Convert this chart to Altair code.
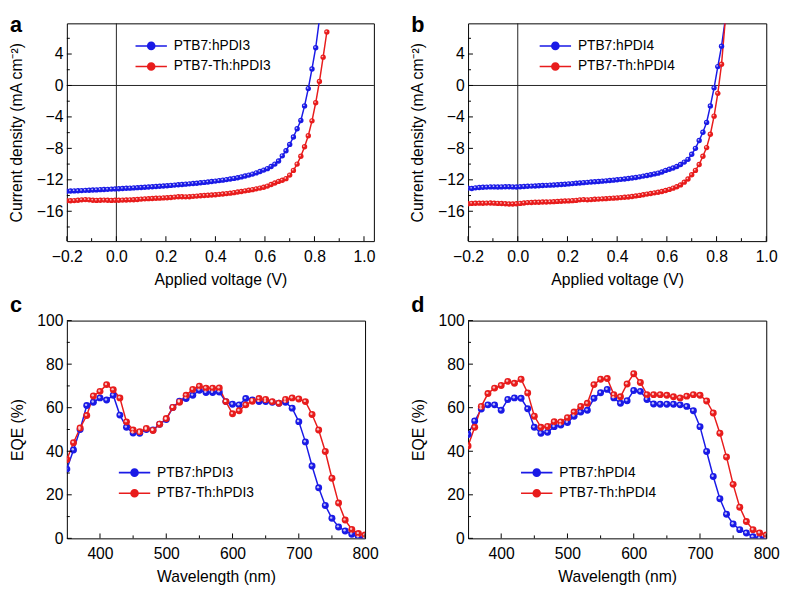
import altair as alt
import pandas as pd

FONT = "Liberation Sans"
BLUE = "#1a1ae6"
RED = "#e81c1c"

# ---------------- J-V data (panels a, b) ----------------
V = [-0.2, -0.185, -0.17, -0.155, -0.14, -0.125, -0.11, -0.095, -0.08, -0.065,
     -0.05, -0.035, -0.02, -0.005, 0.01, 0.025, 0.04, 0.055, 0.07, 0.085,
     0.1, 0.115, 0.13, 0.145, 0.16, 0.175, 0.19, 0.205, 0.22, 0.235,
     0.25, 0.265, 0.28, 0.295, 0.31, 0.325, 0.34, 0.355, 0.37, 0.385,
     0.4, 0.415, 0.43, 0.445, 0.46, 0.475, 0.49, 0.505, 0.52, 0.535,
     0.55, 0.565, 0.58, 0.595, 0.61, 0.625, 0.64, 0.655, 0.67, 0.685,
     0.7, 0.715, 0.73, 0.745, 0.76, 0.775, 0.79, 0.805, 0.82, 0.835, 0.85]

JA_BLUE = [-13.45, -13.43, -13.41, -13.39, -13.37, -13.34, -13.32, -13.30, -13.28, -13.25,
           -13.23, -13.21, -13.18, -13.16, -13.13, -13.11, -13.08, -13.06, -13.03, -13.00,
           -12.97, -12.94, -12.91, -12.88, -12.85, -12.82, -12.78, -12.75, -12.71, -12.67,
           -12.63, -12.59, -12.55, -12.51, -12.47, -12.43, -12.38, -12.33, -12.28, -12.22,
           -12.16, -12.10, -12.04, -11.97, -11.90, -11.82, -11.73, -11.63, -11.52, -11.40,
           -11.27, -11.12, -10.95, -10.76, -10.58, -10.30, -10.00, -9.60, -8.95, -8.30,
           -7.50, -6.55, -5.50, -4.45, -2.60, -0.40, 2.10, 4.80, 8.40]
JA_RED = [-14.65, -14.66, -14.64, -14.60, -14.55, -14.52, -14.55, -14.60, -14.62, -14.60,
          -14.58, -14.60, -14.62, -14.60, -14.60, -14.58, -14.56, -14.55, -14.53, -14.50,
          -14.45, -14.42, -14.40, -14.38, -14.35, -14.33, -14.30, -14.28, -14.25, -14.20,
          -14.15, -14.15, -14.17, -14.15, -14.10, -14.07, -14.03, -14.00, -13.97, -13.93,
          -13.90, -13.85, -13.80, -13.75, -13.70, -13.63, -13.55, -13.48, -13.40, -13.32,
          -13.25, -13.15, -13.05, -12.95, -12.80, -12.60, -12.40, -12.20, -12.05, -11.85,
          -11.40, -10.80, -10.00, -9.00, -7.80, -6.40, -4.50, -2.20, 0.50, 3.60, 6.80]
JB_BLUE = [-13.05, -13.10, -13.02, -12.98, -12.95, -12.93, -12.90, -12.90, -12.92, -12.90,
           -12.88, -12.88, -12.90, -12.92, -12.88, -12.85, -12.82, -12.80, -12.78, -12.75,
           -12.72, -12.70, -12.68, -12.66, -12.63, -12.60, -12.56, -12.52, -12.48, -12.44,
           -12.40, -12.36, -12.32, -12.28, -12.25, -12.21, -12.17, -12.13, -12.09, -12.04,
           -11.99, -11.94, -11.89, -11.83, -11.77, -11.70, -11.62, -11.53, -11.45, -11.35,
           -11.25, -11.15, -11.00, -10.80, -10.65, -10.50, -10.30, -10.05, -9.75, -9.40,
           -8.75, -8.00, -7.00, -5.95, -4.70, -2.60, -0.30, 2.40, 5.00, 8.40]
JB_RED = [-15.05, -15.00, -14.98, -14.97, -14.98, -14.96, -14.95, -14.97, -15.00, -15.02,
          -15.05, -15.08, -15.07, -15.05, -15.00, -14.95, -14.90, -14.88, -14.86, -14.85,
          -14.83, -14.82, -14.80, -14.78, -14.75, -14.72, -14.70, -14.68, -14.65, -14.62,
          -14.55, -14.52, -14.55, -14.52, -14.48, -14.45, -14.42, -14.40, -14.36, -14.33,
          -14.30, -14.26, -14.22, -14.18, -14.12, -14.05, -13.98, -13.90, -13.82, -13.74,
          -13.66, -13.58, -13.48, -13.36, -13.22, -13.06, -12.88, -12.65, -12.30, -11.90,
          -11.35, -10.80, -10.05, -9.00, -7.90, -6.20, -3.90, -1.00, 2.70, 8.30]

# ---------------- EQE data (panels c, d) ----------------
WL = [350, 360, 370, 380, 390, 400, 410, 420, 430, 440,
      450, 460, 470, 480, 490, 500, 510, 520, 530, 540,
      550, 560, 570, 580, 590, 600, 610, 620, 630, 640,
      650, 660, 670, 680, 690, 700, 710, 720, 730, 740,
      750, 760, 770, 780, 790, 800]
EQE_C_BLUE = [31.8, 40.6, 50.0, 61.0, 62.5, 64.5, 63.5, 65.7, 56.6, 51.0,
              48.4, 48.3, 50.0, 49.8, 52.4, 54.6, 60.1, 63.0, 64.2, 65.7,
              68.0, 67.0, 67.0, 67.2, 62.8, 61.6, 61.3, 64.2, 63.5, 62.8,
              62.8, 62.5, 62.0, 62.5, 59.8, 53.6, 44.3, 33.2, 23.2, 15.1,
              9.2, 5.2, 3.4, 1.9, 0.5, 0.0]
EQE_C_RED = [36.2, 43.9, 50.7, 56.4, 65.4, 67.5, 70.6, 68.2, 64.5, 53.5,
             49.8, 49.0, 50.5, 49.5, 52.4, 55.0, 60.1, 62.5, 65.7, 68.4,
             69.9, 69.0, 69.0, 69.1, 62.8, 57.2, 58.6, 61.3, 63.0, 64.2,
             63.8, 62.8, 62.0, 63.8, 64.5, 64.0, 62.8, 56.9, 49.8, 39.9,
             27.6, 16.2, 8.4, 4.1, 2.2, 1.5]
EQE_D_BLUE = [47.7, 53.9, 59.4, 61.3, 61.3, 58.8, 63.8, 64.5, 64.3, 59.5,
              51.0, 48.3, 48.7, 51.3, 52.0, 53.2, 56.1, 58.0, 58.8, 64.3,
              66.9, 68.4, 64.5, 62.0, 63.2, 67.9, 67.5, 63.8, 61.7, 61.6,
              61.6, 61.6, 61.3, 60.6, 58.6, 51.3, 39.9, 28.4, 18.2, 11.1,
              6.6, 4.0, 2.5, 0.7, 0.0, 0.0]
EQE_D_RED = [42.4, 51.0, 60.6, 66.5, 69.0, 70.2, 72.1, 71.2, 73.1, 66.8,
             56.1, 51.0, 51.4, 53.6, 53.5, 55.4, 58.0, 60.6, 62.0, 70.6,
             73.1, 73.4, 66.0, 65.0, 70.9, 75.6, 71.6, 66.0, 66.0, 66.0,
             65.7, 65.0, 64.5, 65.3, 66.0, 65.7, 63.1, 57.6, 48.3, 37.4,
             24.8, 14.3, 7.7, 4.0, 2.5, 1.5]

# ---------------- tick values ----------------
JV_X_MAJOR = [-0.2, 0.0, 0.2, 0.4, 0.6, 0.8, 1.0]
JV_X_MINOR = [-0.1, 0.1, 0.3, 0.5, 0.7, 0.9]
JV_Y_MAJOR = [-16, -12, -8, -4, 0, 4]
JV_Y_MINOR = [-18, -14, -10, -6, -2, 2, 6]
EQE_X_MAJOR = [400, 500, 600, 700, 800]
EQE_X_MINOR = [450, 550, 650, 750]
EQE_Y_MAJOR = [0, 20, 40, 60, 80, 100]
EQE_Y_MINOR = [10, 30, 50, 70, 90]

H = 222
LEGEND_PATH = ("M-2,-0.1L2,-0.1L2,0.1L-2,0.1Z "
               "M0.55,0A0.55,0.55,0,1,1,-0.55,0A0.55,0.55,0,1,1,0.55,0Z")


def make_axis(values, fmt, title, is_y):
    return alt.Axis(values=values, format=fmt, title=title, ticks=False, tickSize=0,
                    domain=False, grid=False, labelFlush=False, labelOverlap=False,
                    labelPadding=4 if is_y else 8, titlePadding=12 if is_y else 7,
                    labelFontSize=16, titleFontSize=16, titleFontWeight="normal",
                    labelFont=FONT, titleFont=FONT, labelColor="black", titleColor="black")


def panel(letter, xs, ys1, ys2, names, xdom, ydom, xaxis, yaxis, width, dot, hl,
          leg_xy, ticks, zeros, letter_y):
    n1, n2 = names
    df = pd.DataFrame({
        "x": list(xs[:len(ys1)]) + list(xs[:len(ys2)]),
        "y": list(ys1) + list(ys2),
        "s": [n1] * len(ys1) + [n2] * len(ys2),
    })
    xsc = alt.Scale(domain=xdom, nice=False, zero=False)
    ysc = alt.Scale(domain=ydom, nice=False, zero=False)
    xe = alt.X("x:Q", scale=xsc, axis=xaxis)
    ye = alt.Y("y:Q", scale=ysc, axis=yaxis)
    csc = alt.Scale(domain=[n1, n2], range=[BLUE, RED])
    layers = []
    if zeros:
        z = pd.DataFrame({"z": [0]})
        layers.append(alt.Chart(z).mark_rule(color="#222222", strokeWidth=1).encode(
            x=alt.X("z:Q", scale=xsc, axis=xaxis)))
        layers.append(alt.Chart(z).mark_rule(color="#222222", strokeWidth=1).encode(
            y=alt.Y("z:Q", scale=ysc, axis=yaxis)))
    base = alt.Chart(df)
    for name, col in ((n1, BLUE), (n2, RED)):
        layers.append(base.transform_filter(alt.datum.s == name).mark_line(
            strokeWidth=1.5, clip=True, color=col).encode(x=xe, y=ye))
    legend = alt.Legend(title=None, orient="none", legendX=leg_xy[0], legendY=leg_xy[1],
                        symbolType=LEGEND_PATH, symbolSize=256, symbolStrokeWidth=0,
                        symbolOpacity=1, labelFont=FONT, labelFontSize=14,
                        labelColor="black", labelOffset=15, rowPadding=6, padding=0)
    layers.append(base.mark_circle(size=dot, opacity=1, clip=True).encode(
        x=xe, y=ye, color=alt.Color("s:N", scale=csc, legend=legend)))
    layers.append(base.mark_circle(color="white", size=hl, opacity=0.7, xOffset=-0.7,
                                   yOffset=-0.7, clip=True).encode(x=xe, y=ye))
    xmaj, xmin, ymaj, ymin = ticks
    for vals, ln in ((xmaj, 5), (xmin, 3)):
        layers.append(alt.Chart(pd.DataFrame({"t": vals})).mark_rule(
            color="black", strokeWidth=1).encode(
            x=alt.X("t:Q", scale=xsc, axis=xaxis), y=alt.value(H), y2=alt.value(H - ln)))
    for vals, ln in ((ymaj, 5), (ymin, 3)):
        layers.append(alt.Chart(pd.DataFrame({"t": vals})).mark_rule(
            color="black", strokeWidth=1).encode(
            y=alt.Y("t:Q", scale=ysc, axis=yaxis), x=alt.value(0), x2=alt.value(ln)))
    # panel letter
    layers.append(alt.Chart(pd.DataFrame({"l": [letter]})).mark_text(
        align="left", baseline="alphabetic", fontSize=22, fontWeight="bold",
        font=FONT, color="black").encode(text="l:N", x=alt.value(-58), y=alt.value(letter_y)))
    return alt.layer(*layers).properties(width=width, height=H)


JV_TICKS = (JV_X_MAJOR, JV_X_MINOR, JV_Y_MAJOR, JV_Y_MINOR)
EQE_TICKS = (EQE_X_MAJOR, EQE_X_MINOR, EQE_Y_MAJOR, EQE_Y_MINOR)
JV_YTITLE = "Current density (mA cm\u207b\u00b2)"

pa = panel("a", V, JA_BLUE, JA_RED, ["PTB7:hPDI3", "PTB7-Th:hPDI3"], [-0.2, 1.04], [-19.8, 7.9],
           make_axis(JV_X_MAJOR, ".1f", "Applied voltage (V)", False),
           make_axis(JV_Y_MAJOR, "d", JV_YTITLE, True),
           313, 30, 3, (78, 15), JV_TICKS, True, 9)
pb = panel("b", V, JB_BLUE, JB_RED, ["PTB7:hPDI4", "PTB7-Th:hPDI4"], [-0.2, 1.0], [-19.8, 7.9],
           make_axis(JV_X_MAJOR, ".1f", "Applied voltage (V)", False),
           make_axis(JV_Y_MAJOR, "d", JV_YTITLE, True),
           304, 30, 3, (81, 15), JV_TICKS, True, 9)
pc = panel("c", WL, EQE_C_BLUE, EQE_C_RED, ["PTB7:hPDI3", "PTB7-Th:hPDI3"], [350, 800], [0, 100],
           make_axis(EQE_X_MAJOR, "d", "Wavelength (nm)", False),
           make_axis(EQE_Y_MAJOR, "d", "EQE (%)", True),
           304, 50, 6, (61, 147), EQE_TICKS, False, -9)
pd_ = panel("d", WL, EQE_D_BLUE, EQE_D_RED, ["PTB7:hPDI4", "PTB7-Th:hPDI4"], [350, 800], [0, 100],
            make_axis(EQE_X_MAJOR, "d", "Wavelength (nm)", False),
            make_axis(EQE_Y_MAJOR, "d", "EQE (%)", True),
            304, 50, 6, (62, 147), EQE_TICKS, False, -9)

chart = alt.concat(pa, pb, pc, pd_, columns=2, spacing={"row": 5, "column": 31}).resolve_scale(
    color="independent", x="independent", y="independent"
).resolve_legend(color="independent").properties(
    align="each", padding={"left": 0, "top": 0, "right": 0, "bottom": 0}
).configure_view(stroke="black", strokeWidth=1)

chart.save("out.html", embed_options={"renderer": "svg", "actions": False})
